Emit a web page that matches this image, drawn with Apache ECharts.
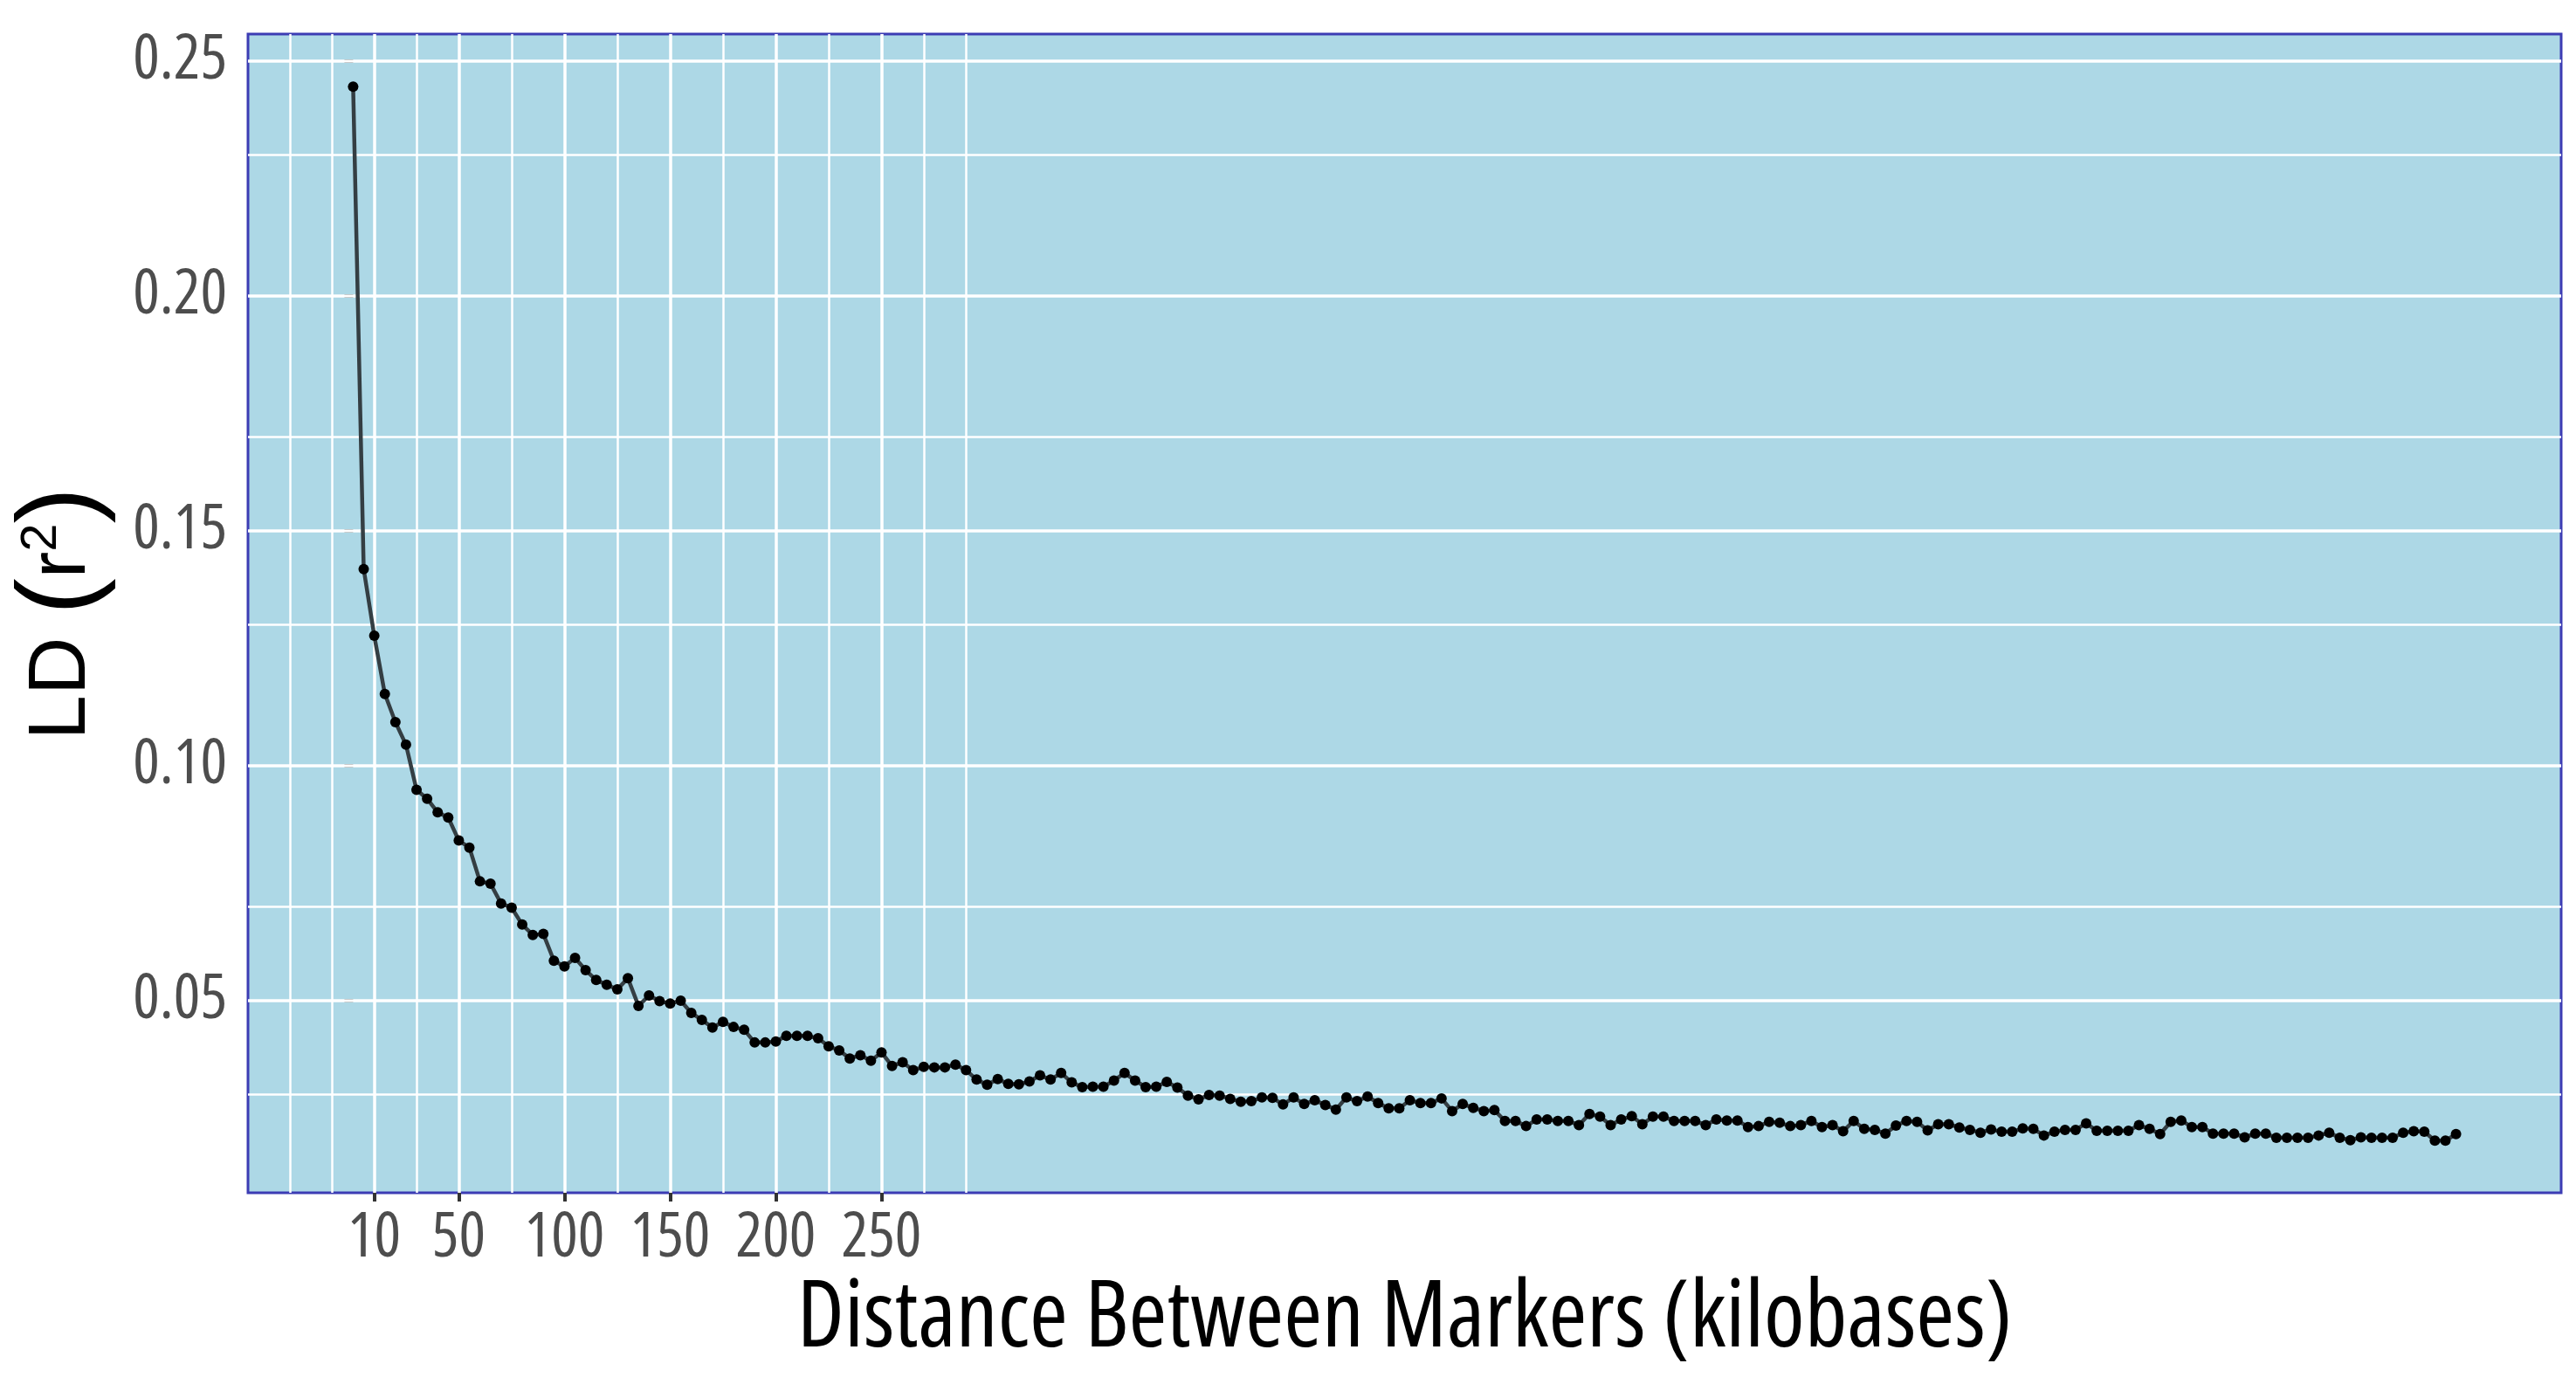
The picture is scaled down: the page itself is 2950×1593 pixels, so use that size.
<!DOCTYPE html>
<html>
<head>
<meta charset="utf-8">
<title>LD decay</title>
<script src="https://cdn.jsdelivr.net/npm/echarts@6/dist/echarts.min.js"></script>
<style>
    html, body {
        margin: 0;
        padding: 0;
        background: #fff;
    }
    #chart {
        width: 2950px;
        height: 1593px;
    }
</style>
</head>
<body>
<div id="chart"></div>
<script>
    // distance between markers (kb), one point every 5 kb
    var distKb = [
        0, 5, 10, 15, 20, 25, 30, 35, 40, 45, 50, 55, 60, 65, 70, 75, 80, 85, 90, 95,
        100, 105, 110, 115, 120, 125, 130, 135, 140, 145, 150, 155, 160, 165, 170, 175, 180, 185, 190, 195,
        200, 205, 210, 215, 220, 225, 230, 235, 240, 245, 250, 255, 260, 265, 270, 275, 280, 285, 290, 295,
        300, 305, 310, 315, 320, 325, 330, 335, 340, 345, 350, 355, 360, 365, 370, 375, 380, 385, 390, 395,
        400, 405, 410, 415, 420, 425, 430, 435, 440, 445, 450, 455, 460, 465, 470, 475, 480, 485, 490, 495,
        500, 505, 510, 515, 520, 525, 530, 535, 540, 545, 550, 555, 560, 565, 570, 575, 580, 585, 590, 595,
        600, 605, 610, 615, 620, 625, 630, 635, 640, 645, 650, 655, 660, 665, 670, 675, 680, 685, 690, 695,
        700, 705, 710, 715, 720, 725, 730, 735, 740, 745, 750, 755, 760, 765, 770, 775, 780, 785, 790, 795,
        800, 805, 810, 815, 820, 825, 830, 835, 840, 845, 850, 855, 860, 865, 870, 875, 880, 885, 890, 895,
        900, 905, 910, 915, 920, 925, 930, 935, 940, 945, 950, 955, 960, 965, 970, 975, 980, 985, 990, 995
    ];

    // mean LD (r^2) per distance bin
    var ldR2 = [
        0.2445, 0.1418, 0.1276, 0.1152, 0.1092, 0.1044, 0.0948, 0.0929, 0.0900, 0.0889,
        0.0840, 0.0825, 0.0753, 0.0748, 0.0706, 0.0697, 0.0661, 0.0639, 0.0641, 0.0584,
        0.0572, 0.0590, 0.0564, 0.0543, 0.0533, 0.0523, 0.0547, 0.0488, 0.0510, 0.0498,
        0.0493, 0.0499, 0.0473, 0.0458, 0.0442, 0.0454, 0.0443, 0.0437, 0.0410, 0.0410,
        0.0412, 0.0424, 0.0424, 0.0424, 0.0419, 0.0402, 0.0393, 0.0376, 0.0383, 0.0371,
        0.0389, 0.0360, 0.0368, 0.0351, 0.0358, 0.0357, 0.0357, 0.0363, 0.0351, 0.0331,
        0.0320, 0.0332, 0.0322, 0.0321, 0.0327, 0.0340, 0.0331, 0.0345, 0.0325, 0.0315,
        0.0316, 0.0316, 0.0329, 0.0345, 0.0329, 0.0315, 0.0316, 0.0326, 0.0314, 0.0297,
        0.0289, 0.0298, 0.0297, 0.0290, 0.0284, 0.0285, 0.0293, 0.0292, 0.0278, 0.0293,
        0.0279, 0.0287, 0.0277, 0.0267, 0.0293, 0.0285, 0.0295, 0.0281, 0.0270, 0.0270,
        0.0287, 0.0281, 0.0281, 0.0291, 0.0264, 0.0279, 0.0271, 0.0264, 0.0266, 0.0243,
        0.0243, 0.0232, 0.0246, 0.0246, 0.0243, 0.0243, 0.0234, 0.0258, 0.0252, 0.0234,
        0.0246, 0.0253, 0.0236, 0.0252, 0.0252, 0.0243, 0.0243, 0.0243, 0.0234, 0.0246,
        0.0244, 0.0244, 0.0230, 0.0232, 0.0241, 0.0239, 0.0232, 0.0234, 0.0243, 0.0230,
        0.0234, 0.0221, 0.0243, 0.0226, 0.0224, 0.0216, 0.0233, 0.0243, 0.0241, 0.0223,
        0.0236, 0.0236, 0.0229, 0.0224, 0.0218, 0.0225, 0.0220, 0.0220, 0.0227, 0.0226,
        0.0212, 0.0220, 0.0224, 0.0224, 0.0238, 0.0222, 0.0222, 0.0222, 0.0222, 0.0234,
        0.0226, 0.0215, 0.0241, 0.0244, 0.0230, 0.0230, 0.0216, 0.0216, 0.0216, 0.0208,
        0.0216, 0.0216, 0.0207, 0.0207, 0.0207, 0.0207, 0.0212, 0.0218, 0.0207, 0.0202,
        0.0208, 0.0207, 0.0207, 0.0207, 0.0218, 0.0221, 0.0220, 0.0201, 0.0201, 0.0215
    ];

    // axis breaks
    var xTicks = [10, 50, 100, 150, 200, 250];
    var xMinorGrid = [-30, -10, 30, 75, 125, 175, 225, 270, 290];
    var yTicks = [0.05, 0.10, 0.15, 0.20, 0.25];
    var yMinorGrid = [0.025, 0.075, 0.125, 0.175, 0.225];

    // Open Sans is a variable font here: 'condensed' in the font string narrows it
    var narrowFont = "'Open Sans', 'Liberation Sans', sans-serif";
    var narrowStretch = 'condensed';
    var plainFont = "'Liberation Sans', Arial, sans-serif";

    var points = distKb.map(function (d, i) { return [d, ldR2[i]]; });

    // white grid lines drawn as markLines under the data
    var gridLines = [];
    xTicks.forEach(function (v) { gridLines.push({ xAxis: v, lineStyle: { width: 3.5 } }); });
    xMinorGrid.forEach(function (v) { gridLines.push({ xAxis: v, lineStyle: { width: 2.5 } }); });
    yTicks.forEach(function (v) { gridLines.push({ yAxis: v, lineStyle: { width: 3.5 } }); });
    yMinorGrid.forEach(function (v) { gridLines.push({ yAxis: v, lineStyle: { width: 2.5 } }); });

    var myChart = echarts.init(document.getElementById('chart'));

    myChart.setOption({
        animation: false,
        backgroundColor: '#ffffff',
        grid: {
            left: 284,
            right: 17,
            top: 39,
            bottom: 227,
            outerBoundsMode: 'none',
            containLabel: false,
            show: true,
            backgroundColor: '#add8e6',
            borderColor: '#3c3cb4',
            borderWidth: 3,
            z: 0
        },
        xAxis: {
            type: 'value',
            min: -49.75,
            max: 1044.75,
            name: 'Distance Between Markers (kilobases)',
            nameLocation: 'middle',
            nameGap: 90,
            nameTextStyle: {
                fontFamily: narrowFont,
                fontWeight: narrowStretch,
                fontSize: 106,
                color: '#000'
            },
            axisLine: { show: false },
            splitLine: { show: false },
            axisTick: {
                show: true,
                customValues: xTicks,
                length: 10,
                lineStyle: { color: '#333', width: 4 }
            },
            axisLabel: {
                customValues: xTicks,
                margin: 16,
                fontFamily: narrowFont,
                fontWeight: narrowStretch,
                fontSize: 72,
                color: '#4d4d4d'
            }
        },
        yAxis: {
            type: 'value',
            min: 0.009,
            max: 0.2557,
            name: 'LD {p|(}r{s|2}{p|)}',
            nameLocation: 'middle',
            nameRotate: 90,
            nameGap: 150,
            nameTextStyle: {
                fontFamily: plainFont,
                fontSize: 92,
                color: '#000',
                rich: {
                    p: { fontSize: 125, fontFamily: plainFont, color: '#000' },
                    s: { fontSize: 58, padding: [0, 0, 48, 0], fontFamily: plainFont, color: '#000' }
                }
            },
            axisLine: { show: false },
            splitLine: { show: false },
            axisTick: {
                show: true,
                customValues: yTicks,
                length: 10,
                lineStyle: { color: '#333', width: 4 }
            },
            axisLabel: {
                customValues: yTicks,
                margin: 24,
                fontFamily: narrowFont,
                fontWeight: narrowStretch,
                fontSize: 72,
                color: '#4d4d4d',
                formatter: function (v) { return v.toFixed(2); }
            }
        },
        series: [
            {
                // grid lines only
                type: 'line',
                data: [],
                z: 1,
                silent: true,
                markLine: {
                    silent: true,
                    symbol: 'none',
                    label: { show: false },
                    lineStyle: { color: '#ffffff', type: 'solid' },
                    emphasis: { disabled: true },
                    data: gridLines
                }
            },
            {
                name: 'LD',
                type: 'line',
                data: points,
                z: 5,
                symbol: 'circle',
                symbolSize: 12,
                showAllSymbol: true,
                itemStyle: { color: '#000' },
                lineStyle: { color: '#343e43', width: 4.5 }
            }
        ]
    });
</script>
</body>
</html>
